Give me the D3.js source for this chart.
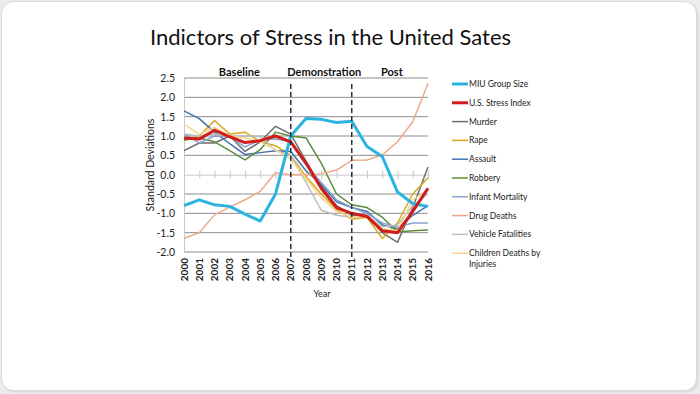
<!DOCTYPE html>
<html>
<head>
<meta charset="utf-8">
<script src="https://cdn.jsdelivr.net/npm/d3@7"></script>
<style>
  html, body { margin: 0; padding: 0; background: #ececec; }
  svg { display: block; font-family: Lato, "Open Sans", sans-serif; }
</style>
</head>
<body>
<div id="chart"></div>
<script>
const years = d3.range(2000, 2017);
const yTicks = [-2.0, -1.5, -1.0, -0.5, 0.0, 0.5, 1.0, 1.5, 2.0, 2.5];

const miuGroupSize    = [-0.80, -0.65, -0.78, -0.82, -1.02, -1.20, -0.50, 1.00, 1.45, 1.43, 1.35, 1.38, 0.73, 0.47, -0.45, -0.75, -0.82];
const stressIndex     = [0.95, 0.92, 1.15, 0.98, 0.83, 0.88, 1.00, 0.85, 0.30, -0.35, -0.85, -1.00, -1.08, -1.45, -1.50, -0.95, -0.35];
const murder          = [0.62, 0.82, 0.82, 1.00, 0.60, 0.85, 1.25, 1.05, 0.35, -0.30, -0.80, -1.05, -1.05, -1.50, -1.75, -0.85, 0.20];
const rape            = [0.88, 1.00, 1.40, 1.05, 1.10, 0.85, 0.75, 0.50, -0.05, -0.50, -0.90, -1.15, -1.10, -1.65, -1.25, -0.50, -0.08];
const assault         = [1.65, 1.45, 1.10, 0.80, 0.52, 0.57, 0.62, 0.60, 0.10, -0.25, -0.70, -0.85, -0.95, -1.30, -1.40, -1.05, -0.80];
const robbery         = [0.90, 0.95, 0.85, 0.62, 0.38, 0.65, 1.10, 1.00, 0.95, 0.30, -0.50, -0.78, -0.85, -1.10, -1.48, -1.45, -1.43];
const infantMortality = [1.05, 0.82, 1.00, 0.98, 0.72, 0.90, 0.92, 0.85, 0.25, -0.20, -0.65, -0.85, -1.00, -1.25, -1.35, -1.25, -1.25];
const drugDeaths      = [-1.65, -1.50, -1.04, -0.84, -0.65, -0.43, 0.05, 0.00, 0.00, 0.02, 0.12, 0.37, 0.38, 0.51, 0.85, 1.37, 2.36];
const vehicleFatal    = [1.05, 1.00, 1.05, 0.98, 1.00, 0.98, 0.62, 0.50, -0.20, -0.92, -1.05, -1.10, -1.05, -1.35, -1.30, -0.80, -0.50];
const childDeaths     = [1.30, 1.05, 1.22, 1.00, 0.95, 0.85, 0.65, 0.40, -0.10, -0.60, -0.95, -1.10, -1.05, -1.40, -1.45, -0.65, -0.40];

const phases = [
  { label: 'Baseline', from: 2000, to: 2007, nudge: 2 },
  { label: 'Demonstration', from: 2007, to: 2011, nudge: 3 },
  { label: 'Post', from: 2011, to: 2016, nudge: 2 }
];
const phaseBreaks = [2007, 2011];

const series = [
  { name: 'MIU Group Size', values: miuGroupSize, color: '#2bb3e0', width: 3 },
  { name: 'U.S. Stress Index', values: stressIndex, color: '#d01c1c', width: 3 },
  { name: 'Murder', values: murder, color: '#6f6f6f', width: 1.5 },
  { name: 'Rape', values: rape, color: '#d6a820', width: 1.5 },
  { name: 'Assault', values: assault, color: '#3f73b0', width: 1.5 },
  { name: 'Robbery', values: robbery, color: '#5c8d3a', width: 1.5 },
  { name: 'Infant Mortality', values: infantMortality, color: '#8aa2d0', width: 1.5 },
  { name: 'Drug Deaths', values: drugDeaths, color: '#eea987', width: 1.5 },
  { name: 'Vehicle Fatalities', values: vehicleFatal, color: '#bdbdbd', width: 1.5 },
  { name: 'Children Deaths by Injuries', values: childDeaths, color: '#f7d58a', width: 1.5 }
];

const W = 700, H = 394;
const plot = { left: 184, right: 428, top: 78, bottom: 252 };

const svg = d3.select('#chart').append('svg')
  .attr('width', W)
  .attr('height', H);

// slide frame
svg.append('rect')
  .attr('x', 2.5).attr('y', 2.5)
  .attr('width', W - 4).attr('height', H - 4)
  .attr('rx', 12)
  .attr('fill', '#dcdcdc');
svg.append('rect')
  .attr('x', 1.5).attr('y', 1.5)
  .attr('width', W - 5).attr('height', H - 5)
  .attr('rx', 12)
  .attr('fill', '#fff')
  .attr('stroke', '#dadada');

svg.append('text')
  .attr('x', 150).attr('y', 45)
  .attr('font-size', 22)
  .attr('fill', '#111')
  .text('Indictors of Stress in the United Sates');

const x = d3.scalePoint().domain(years).range([plot.left, plot.right]);
const y = d3.scaleLinear().domain([-2, 2.5]).range([plot.bottom, plot.top]);

// gridlines (0 is drawn as the category axis)
svg.append('g')
  .selectAll('line')
  .data(yTicks.filter(d => d !== 0))
  .join('line')
  .attr('x1', plot.left).attr('x2', plot.right)
  .attr('y1', d => y(d)).attr('y2', d => y(d))
  .attr('stroke', '#8c8c8c')
  .attr('stroke-width', 1);

const yAxis = svg.append('g')
  .attr('transform', `translate(${plot.left},0)`)
  .call(d3.axisLeft(y).tickValues(yTicks).tickSize(0).tickPadding(9).tickFormat(d => d.toFixed(1)));
yAxis.select('.domain').attr('stroke', '#c8c8c8');
yAxis.selectAll('text').attr('font-size', 10.5).attr('fill', '#222').attr('font-family', 'Lato, sans-serif');

svg.append('text')
  .attr('transform', `translate(154,${(plot.top + plot.bottom) / 2}) rotate(-90)`)
  .attr('text-anchor', 'middle')
  .attr('font-size', 10.5)
  .attr('fill', '#222')
  .text('Standard Deviations');

// x axis at zero, tick marks crossing the line
const xAxis = svg.append('g')
  .attr('transform', `translate(0,${y(0)})`)
  .call(d3.axisBottom(x).tickSizeInner(4).tickSizeOuter(0).tickFormat(''));
xAxis.select('.domain').attr('stroke', '#c8c8c8');
xAxis.selectAll('.tick line').attr('stroke', '#c8c8c8').attr('y1', -4);

svg.append('g')
  .selectAll('text')
  .data(years)
  .join('text')
  .attr('transform', d => `translate(${x(d) + 3.5},${plot.bottom + 6}) rotate(-90)`)
  .attr('text-anchor', 'end')
  .attr('font-size', 10)
  .attr('font-weight', 'bold')
  .attr('fill', '#222')
  .text(d => d);

svg.append('text')
  .attr('x', 322).attr('y', 297)
  .attr('text-anchor', 'middle')
  .attr('font-size', 9)
  .attr('fill', '#222')
  .text('Year');

svg.append('g')
  .selectAll('text')
  .data(phases)
  .join('text')
  .attr('x', d => (x(d.from) + x(d.to)) / 2 + d.nudge)
  .attr('y', 76)
  .attr('text-anchor', 'middle')
  .attr('font-size', 11)
  .attr('font-weight', 'bold')
  .attr('fill', '#111')
  .text(d => d.label);

const line = d3.line()
  .x((d, i) => x(years[i]))
  .y(d => y(d));

// thin lines first, the two thick ones on top
const order = series.slice(2).concat(series.slice(0, 2));
svg.append('g')
  .selectAll('path')
  .data(order)
  .join('path')
  .attr('d', d => line(d.values))
  .attr('fill', 'none')
  .attr('stroke', d => d.color)
  .attr('stroke-width', d => d.width)
  .attr('stroke-linejoin', 'round');

svg.append('g')
  .selectAll('line')
  .data(phaseBreaks)
  .join('line')
  .attr('x1', d => x(d)).attr('x2', d => x(d))
  .attr('y1', plot.top + 6).attr('y2', plot.bottom + 6)
  .attr('stroke', '#1f2d4d')
  .attr('stroke-width', 1.5)
  .attr('stroke-dasharray', '5,3');

// legend
const legend = svg.append('g').attr('transform', 'translate(452,84)');
const item = legend.selectAll('g')
  .data(series)
  .join('g')
  .attr('transform', (d, i) => `translate(0,${i * 18.8})`);
item.append('line')
  .attr('x1', 0).attr('x2', 16)
  .attr('stroke', d => d.color)
  .attr('stroke-width', d => d.width);
item.append('text')
  .attr('x', 17)
  .attr('y', 3)
  .attr('font-size', 8.5)
  .attr('fill', '#222')
  .each(function (d) {
    const t = d3.select(this);
    if (d.name === 'Children Deaths by Injuries') {
      t.append('tspan').attr('x', 17).text('Children Deaths by');
      t.append('tspan').attr('x', 17).attr('dy', 10.5).text('Injuries');
    } else {
      t.text(d.name);
    }
  });
</script>
</body>
</html>
